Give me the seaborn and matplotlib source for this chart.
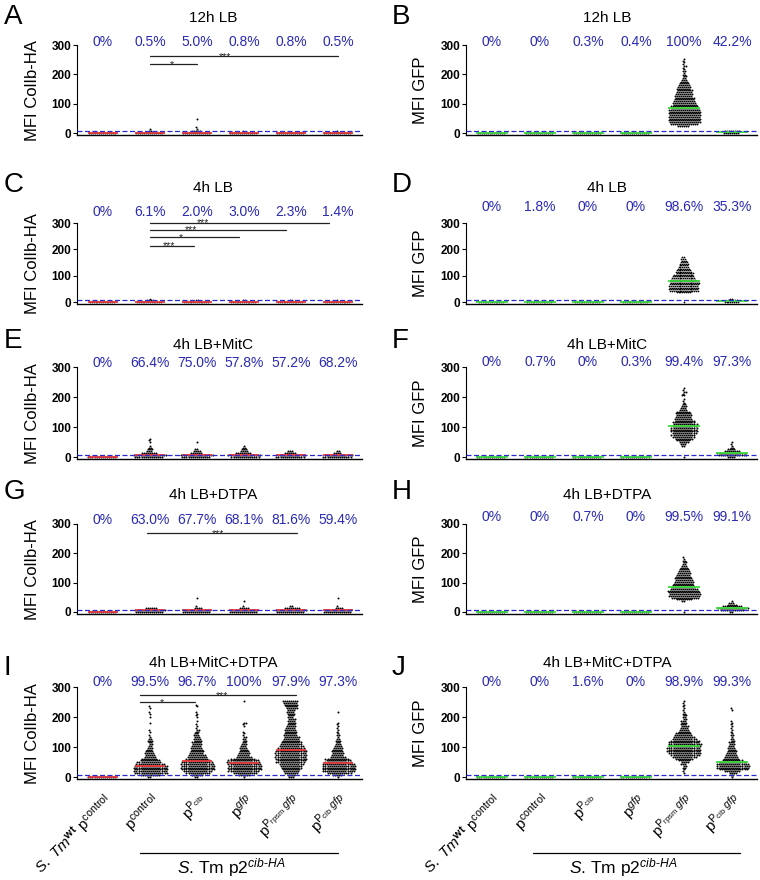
import warnings
import numpy as np
import pandas as pd
import seaborn as sns
import matplotlib.pyplot as plt
from matplotlib import transforms

warnings.filterwarnings('ignore')

sns.set_style('ticks')
plt.rcParams['font.family'] = ['Liberation Sans', 'DejaVu Sans']
plt.rcParams['mathtext.fontset'] = 'custom'
plt.rcParams['mathtext.rm'] = 'Liberation Sans'
plt.rcParams['mathtext.it'] = 'Liberation Sans:italic'
plt.rcParams['mathtext.bf'] = 'Liberation Sans:bold'
for k in ['text.color', 'axes.labelcolor', 'xtick.color', 'ytick.color', 'axes.edgecolor']:
    plt.rcParams[k] = 'black'

# MFI bin centres used when reading the dot columns off the figure
BINS = [1, 7, 13, 19, 25, 31, 37, 43, 49, 55, 61, 67, 73, 79, 85, 91, 97, 103,
        109, 115, 121, 127, 133, 139, 145, 151, 157, 163, 169, 175, 181, 187,
        193, 199, 205, 211, 217, 223, 229, 235, 241, 247, 253]

groups = ['S. Tm wt pcontrol', 'pcontrol', 'pPcib', 'pgfp', 'pPrpsm gfp', 'pPcib gfp']
tick_labels = [r'$\it{S.\ Tm}^{\mathbf{wt}}$ p$^{\mathrm{control}}$',
               r'p$^{\mathrm{control}}$',
               r'p$^{\mathrm{P}_{\mathrm{cib}}}$',
               r'p$^{gfp}$',
               r'p$^{\mathrm{P}_{\mathrm{rpsm}}\ gfp}$',
               r'p$^{\mathrm{P}_{\mathrm{cib}}\ gfp}$']

# dots per bin (index into BINS) for each of the 6 strains
A_counts = [[14], [14, 2, 1], [14, 5, 1, 1, 0, 0, 0, 0, 1], [14, 1], [14], [14, 1]]
B_counts = [[14], [14], [14], [14],
            [0, 0, 0, 0, 6, 14, 16, 16, 16, 16, 16, 16, 16, 16, 14, 14, 12, 12, 11, 10, 10,
             9, 9, 8, 8, 7, 7, 6, 5, 4, 3, 2, 2, 2, 1, 2, 1, 1, 2, 1, 1, 1, 1],
            [8, 8]]
C_counts = [[14], [14, 4, 1], [14, 2], [14, 2], [14, 2], [14, 1]]
D_counts = [[14], [14], [14], [14],
            [1, 0, 0, 0, 0, 0, 8, 16, 16, 16, 16, 16, 16, 16, 14, 13, 12, 11, 10, 9, 8, 7,
             6, 5, 5, 4, 3, 3, 2],
            [8, 6, 2]]
E_counts = [[14], [14, 16, 8, 3, 3, 2, 1, 0, 1, 1, 1], [14, 16, 6, 4, 2, 0, 0, 0, 1],
            [14, 16, 8, 4, 3, 2, 1], [14, 14, 6, 3], [14, 14, 4, 2]]
F_counts = [[14], [14], [14], [14],
            [1, 0, 0, 0, 0, 0, 2, 3, 5, 7, 9, 11, 12, 12, 13, 13, 13, 12, 12, 11, 10, 9, 8,
             8, 8, 7, 4, 3, 3, 2, 1, 1, 1, 0, 2, 1, 2, 1, 1],
            [4, 14, 14, 8, 4, 2, 1, 1, 1]]
G_counts = [[14], [14, 16, 6], [14, 14, 4, 1, 0, 0, 0, 0, 1], [14, 14, 5, 1, 0, 0, 1],
            [14, 16, 8, 2], [14, 14, 4, 1, 0, 0, 0, 0, 1]]
H_counts = [[14], [14], [14], [14],
            [1, 0, 0, 0, 0, 0, 2, 8, 14, 16, 16, 16, 16, 14, 12, 11, 10, 10, 9, 9, 8, 7, 7,
             6, 5, 4, 3, 2, 2, 2, 1, 1],
            [2, 12, 16, 10, 5, 3, 1]]
I_counts = [[14],
            [2, 10, 16, 16, 16, 16, 16, 14, 12, 10, 8, 6, 5, 5, 4, 3, 3, 2, 2, 2, 3, 2, 1, 1,
             0, 1, 1, 0, 0, 0, 1, 0, 0, 1, 0, 1, 1, 0, 1, 1],
            [2, 6, 12, 14, 16, 16, 16, 16, 15, 12, 11, 10, 9, 7, 7, 6, 6, 5, 5, 5, 4, 4, 3, 3,
             2, 2, 2, 1, 1, 1, 0, 1, 0, 1, 1, 1, 1, 0, 0, 1, 1],
            [1, 6, 12, 15, 16, 16, 16, 16, 16, 15, 12, 8, 6, 6, 5, 4, 4, 3, 3, 2, 2, 2, 2, 1,
             1, 1, 0, 0, 1, 1, 2, 0, 0, 0, 0, 0, 0, 0, 0, 0, 0, 0, 1],
            [3, 4, 7, 8, 9, 10, 11, 12, 14, 14, 15, 15, 15, 15, 15, 14, 13, 12, 11, 10, 9, 8,
             8, 7, 6, 6, 6, 5, 5, 4, 4, 4, 4, 3, 3, 4, 4, 4, 6, 6, 7, 7, 8],
            [1, 5, 12, 16, 16, 16, 16, 16, 13, 12, 12, 8, 6, 6, 6, 5, 5, 4, 3, 2, 3, 2, 1, 2,
             1, 1, 1, 1, 1, 1, 1, 0, 0, 0, 0, 0, 1]]
J_counts = [[14], [14], [14], [14],
            [0, 0, 1, 1, 1, 2, 2, 3, 4, 6, 9, 12, 14, 16, 16, 16, 16, 16, 16, 15, 14, 12, 11,
             9, 8, 6, 5, 4, 4, 3, 3, 3, 2, 2, 2, 2, 1, 1, 1, 1, 1, 1, 1],
            [1, 2, 4, 8, 14, 16, 16, 16, 13, 10, 8, 7, 6, 5, 5, 4, 4, 3, 3, 3, 2, 2, 1, 2, 1,
             1, 1, 1, 1, 1, 1, 1, 0, 0, 0, 0, 0, 1, 1]]

A_pct = ['0%', '0.5%', '5.0%', '0.8%', '0.8%', '0.5%']
B_pct = ['0%', '0%', '0.3%', '0.4%', '100%', '42.2%']
C_pct = ['0%', '6.1%', '2.0%', '3.0%', '2.3%', '1.4%']
D_pct = ['0%', '1.8%', '0%', '0%', '98.6%', '35.3%']
E_pct = ['0%', '66.4%', '75.0%', '57.8%', '57.2%', '68.2%']
F_pct = ['0%', '0.7%', '0%', '0.3%', '99.4%', '97.3%']
G_pct = ['0%', '63.0%', '67.7%', '68.1%', '81.6%', '59.4%']
H_pct = ['0%', '0%', '0.7%', '0%', '99.5%', '99.1%']
I_pct = ['0%', '99.5%', '96.7%', '100%', '97.9%', '97.3%']
J_pct = ['0%', '0%', '1.6%', '0%', '98.9%', '99.3%']

# significance bars: (from, to, height, star x, label)
A_sig = [(1, 2, 235, 1.47, '*'), (1, 5, 262, 2.6, '***')]
C_sig = [(1, 4.8, 300, 2.13, '***'), (1, 3.9, 273, 1.87, '***'),
         (1, 2.89, 245, 1.66, '*'), (1, 1.94, 214, 1.4, '***')]
G_sig = [(0.94, 4.13, 269, 2.45, '***')]
I_sig = [(0.8, 4.1, 273, 2.53, '***'), (0.8, 1.96, 250, 1.26, '*')]

W, H = 760, 880
fig = plt.figure(figsize=(W / 100, H / 100), dpi=100)

cols = {0: (77, 362, (-0.55, 5.51), 'MFI ColIb-HA', '#e8383a', 213),
        1: (466, 757, (-0.54, 5.52), 'MFI GFP', '#3ddc3d', 607)}
# (px of 300 tick, px of 0 tick, title y px, letter top px)
rows = [(45, 133, 18, 4), (223, 302, 188, 172), (367, 457, 345, 328),
        (524, 612, 495, 479), (687, 777, 663, 655)]

panels = [('A', '12h LB', A_counts, A_pct, 0, 0, 310, A_sig),
          ('B', '12h LB', B_counts, B_pct, 1, 0, 310, []),
          ('C', '4h LB', C_counts, C_pct, 0, 1, 342, C_sig),
          ('D', '4h LB', D_counts, D_pct, 1, 1, 361, []),
          ('E', '4h LB+MitC', E_counts, E_pct, 0, 2, 313, []),
          ('F', '4h LB+MitC', F_counts, F_pct, 1, 2, 317, []),
          ('G', '4h LB+DTPA', G_counts, G_pct, 0, 3, 314, G_sig),
          ('H', '4h LB+DTPA', H_counts, H_pct, 1, 3, 324, []),
          ('I', '4h LB+MitC+DTPA', I_counts, I_pct, 0, 4, 317, I_sig),
          ('J', '4h LB+MitC+DTPA', J_counts, J_pct, 1, 4, 317, [])]

YMIN = -8

for letter, title, counts, pct, c, r, pct_y, sig in panels:
    x0, x1, xlim, ylab, med_col, title_x = cols[c]
    top, zero, title_y, letter_y = rows[r]
    bottom = zero + (0 - YMIN) * (zero - top) / 300
    ax = fig.add_axes([x0 / W, 1 - bottom / H, (x1 - x0) / W, (bottom - top) / H])

    recs = []
    for g, cnt in enumerate(counts):
        for v in np.repeat(BINS[:len(cnt)], cnt):
            recs.append((groups[g], v))
    df = pd.DataFrame(recs, columns=['strain', 'mfi'])

    # dot size follows the pixel gap between neighbouring bins so rows stack cleanly
    dot = 1.4 * (6 * (zero - top) / 300) / 1.76
    sns.swarmplot(data=df, x='strain', y='mfi', order=groups, color='black',
                  size=min(dot, 1.45), linewidth=0, ax=ax, zorder=2)
    sns.boxplot(data=df, x='strain', y='mfi', order=groups, width=0.65,
                showbox=False, showcaps=False, showfliers=False, whis=0,
                whiskerprops={'visible': False},
                medianprops={'color': med_col, 'linewidth': 1.3, 'zorder': 4},
                ax=ax)
    ax.axhline(8, color='#2a2ad0', ls='--', lw=0.9, dashes=(4, 2), zorder=5)

    ax.set_xlim(*xlim)
    ax.set_ylim(YMIN, 300)
    ax.set_yticks([0, 100, 200, 300])
    ax.tick_params(axis='y', labelsize=8.5, length=3, width=0.8, pad=1)
    for t in ax.get_yticklabels():
        t.set_fontweight('bold')
    sns.despine(ax=ax)
    ax.spines['left'].set_linewidth(0.8)
    ax.spines['bottom'].set_linewidth(1.0)
    ax.set_xlabel('')
    ax.set_ylabel(ylab, fontsize=12)
    ax.yaxis.set_label_coords(-0.13, 0.5)

    for i, p in enumerate(pct):
        ax.text(i, pct_y, p, color='#2a2ab4', fontsize=10, ha='center', va='center',
                clip_on=False)

    for a, b, yv, sx, lab in sig:
        ax.plot([a, b], [yv, yv], color='#222222', lw=0.9, clip_on=False)
        ax.text(sx, yv - 13, lab, fontsize=7.5, ha='center', va='baseline', color='#222222')

    fig.text(title_x / W, 1 - title_y / H, title, fontsize=11, ha='center', va='center')
    lx = 4 if c == 0 else 392
    fig.text(lx / W, 1 - letter_y / H, letter, fontsize=20, ha='left', va='top')

    if r == 4:
        ax.set_xticks(range(6))
        ax.set_xticklabels(tick_labels, rotation=45, ha='right',
                           rotation_mode='anchor', fontsize=11)
        ax.tick_params(axis='x', length=0, pad=8)
        tr = transforms.blended_transform_factory(ax.transData, fig.transFigure)
        bx = (0.79, 5.0) if c == 0 else (0.85, 5.17)
        ax.plot(bx, [1 - 853 / H] * 2, color='black', lw=0.9, transform=tr, clip_on=False)
        tx = 231 if c == 0 else 623
        fig.text(tx / W, 1 - 868 / H, r'$\it{S}$. Tm p2$^{\mathit{cib\text{-}HA}}$',
                 fontsize=12.5, ha='center', va='center')
    else:
        ax.set_xticks([])

fig.savefig('out.png', dpi=100)
